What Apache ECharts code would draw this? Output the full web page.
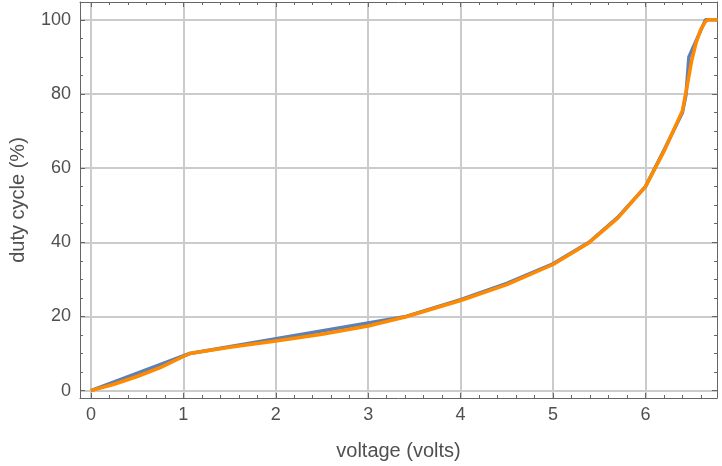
<!DOCTYPE html>
<html>
<head>
<meta charset="utf-8">
<script src="https://cdn.jsdelivr.net/npm/echarts@6/dist/echarts.min.js"></script>
<style>html,body{margin:0;padding:0;background:#fff}#c{width:722px;height:466px}</style>
</head>
<body>
<div id="c"></div>
<script>
// Data
const blueX = [0, 1.07, 3.41, 4.0, 4.5, 5.0, 5.39, 5.7, 6.0, 6.2, 6.40, 6.44, 6.47, 6.65, 6.78];
const blueY = [0, 10, 20, 24.5, 28.9, 34.2, 40, 46.7, 55, 64.8, 75, 80, 90, 100, 100];
const orangeX = [0, 0.25, 0.5, 0.75, 1.0, 1.07, 1.5, 2.0, 2.5, 3.0, 3.41, 4.0, 4.5, 5.0, 5.39, 5.7, 6.0, 6.2, 6.4, 6.45, 6.5, 6.55, 6.6, 6.65, 6.68, 6.78];
const orangeY = [0, 1.7, 3.8, 6.2, 9.2, 10, 11.7, 13.4, 15.2, 17.4, 19.9, 24.3, 28.6, 34.0, 39.9, 46.5, 55, 64.5, 75.5, 82, 89, 94, 97.5, 99.6, 100, 100];
const xTicks = [0, 1, 2, 3, 4, 5, 6];
const yTicks = [0, 20, 40, 60, 80, 100];
const xName = 'voltage (volts)';
const yName = 'duty cycle (%)';

const xMin = -0.118, xMax = 6.774, yMin = -2.0, yMax = 104.8;
const xMinor = [];
for (let i = 0; i <= 34; i++) { const v = Math.round(i * 2) / 10; if (i % 5 !== 0) xMinor.push(v); }
const yMinor = [];
for (let v = 0; v <= 100; v += 5) { if (v % 20 !== 0) yMinor.push(v); }

const axisColor = '#666';
const fontFam = 'Liberation Sans, Arial, sans-serif';
const labelStyle = { color: '#505050', fontSize: 18, fontFamily: fontFam };
const nameStyle = { color: '#505050', fontSize: 20, fontFamily: fontFam };

function xAx(pos, ticks, len, main, showLine) {
  return {
    type: 'value', position: pos, min: xMin, max: xMax,
    axisLine: { show: showLine, onZero: false, lineStyle: { color: axisColor, width: 1 } },
    axisTick: { show: true, inside: true, length: len, customValues: ticks, lineStyle: { color: axisColor, width: 1 } },
    axisLabel: main ? Object.assign({ show: true, margin: 8, customValues: ticks }, labelStyle) : { show: false },
    splitLine: main ? { show: true, lineStyle: { color: '#cbcbcb', width: 2 } } : { show: false },
    name: main ? xName : '', nameLocation: 'middle', nameGap: 43,
    nameTextStyle: nameStyle
  };
}
function yAx(pos, ticks, len, main, showLine) {
  return {
    type: 'value', position: pos, min: yMin, max: yMax,
    axisLine: { show: showLine, onZero: false, lineStyle: { color: axisColor, width: 1 } },
    axisTick: { show: true, inside: true, length: len, customValues: ticks, lineStyle: { color: axisColor, width: 1 } },
    axisLabel: main ? Object.assign({ show: true, margin: 9, customValues: ticks }, labelStyle) : { show: false },
    splitLine: main ? { show: true, lineStyle: { color: '#cbcbcb', width: 2 } } : { show: false },
    name: main ? yName : '', nameLocation: 'middle', nameGap: 52, nameRotate: 90,
    nameTextStyle: nameStyle
  };
}

const chart = echarts.init(document.getElementById('c'), null, { renderer: 'canvas' });
chart.setOption({
  animation: false,
  backgroundColor: '#fff',
  grid: { left: 74, right: 5, top: 2, bottom: 67, containLabel: false },
  xAxis: [
    xAx('bottom', xTicks, 5, true, true),
    xAx('bottom', xMinor, 3, false, false),
    xAx('top', xTicks, 5, false, true),
    xAx('top', xMinor, 3, false, false)
  ],
  yAxis: [
    yAx('left', yTicks, 5, true, true),
    yAx('left', yMinor, 3, false, false),
    yAx('right', yTicks, 5, false, true),
    yAx('right', yMinor, 3, false, false)
  ],
  series: [
    {
      type: 'line', xAxisIndex: 0, yAxisIndex: 0, showSymbol: false, smooth: false,
      data: blueX.map((x, i) => [x, blueY[i]]),
      lineStyle: { color: '#5E81B5', width: 3.5 }, itemStyle: { color: '#5E81B5' }, z: 3
    },
    {
      type: 'line', xAxisIndex: 0, yAxisIndex: 0, showSymbol: false, smooth: false,
      data: orangeX.map((x, i) => [x, orangeY[i]]),
      lineStyle: { color: '#FF8A00', width: 3.5 }, itemStyle: { color: '#FF8A00' }, z: 4
    }
  ]
});
</script>
</body>
</html>
